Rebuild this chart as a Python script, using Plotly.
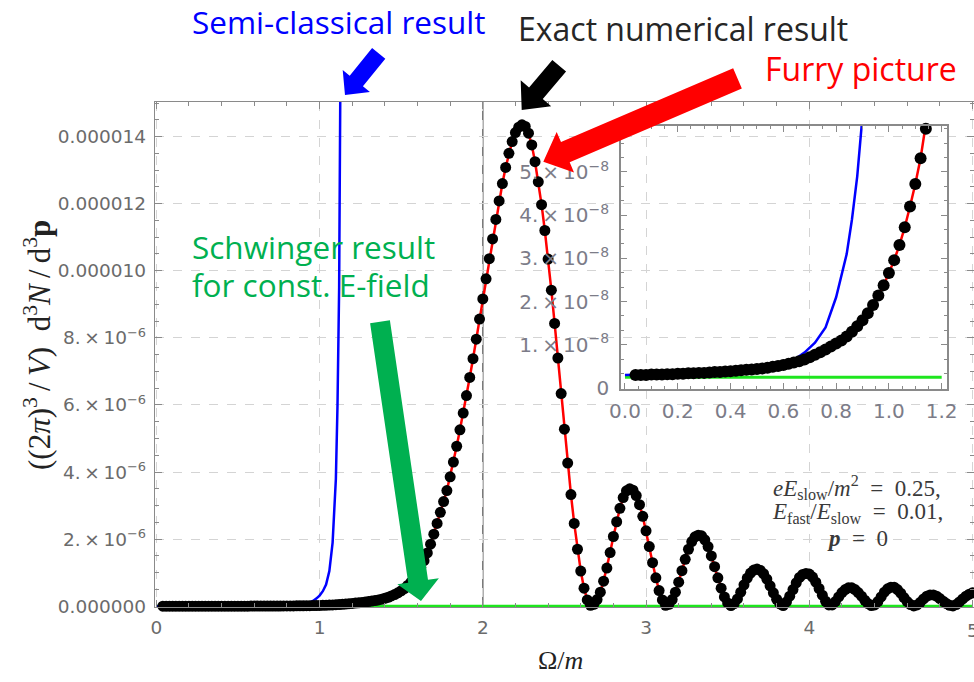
import numpy as np
import plotly.graph_objects as go

# ------------------------------------------------------------------ data
omega_start = 0.04          # first sample of the exact result (Omega/m)
omega_step = 0.02           # sampling step of the exact result

# Exact numerical result (black dots) for Omega/m = 0.04 ... 1.20, in units of 1e-8
exact_low_1e8 = [
    0.30, 0.30, 0.30, 0.31, 0.31, 0.31, 0.32, 0.32, 0.33, 0.33,   # 0.04-0.22
    0.34, 0.34, 0.35, 0.35, 0.36, 0.37, 0.37, 0.38, 0.39, 0.40,   # 0.24-0.42
    0.41, 0.42, 0.43, 0.44, 0.45, 0.47, 0.49, 0.51, 0.53, 0.56,   # 0.44-0.62
    0.59, 0.62, 0.66, 0.71, 0.77, 0.83, 0.89, 0.96, 1.03, 1.10,   # 0.64-0.82
    1.19, 1.30, 1.43, 1.57, 1.73, 1.92, 2.14, 2.38, 2.66, 2.96,   # 0.84-1.02
    3.31, 3.72, 4.20, 4.72, 5.32, 6.00, 6.80, 7.70, 8.70,         # 1.04-1.20
]
# Exact numerical result for Omega/m = 1.22 ... 5.00, in units of 1e-6
exact_high_1e6 = [
    0.097, 0.106, 0.116, 0.127, 0.140, 0.155, 0.170, 0.190, 0.210, 0.240,  # 1.22-1.40
    0.270, 0.310, 0.350, 0.400, 0.460, 0.530, 0.620, 0.720, 0.840, 0.990,  # 1.42-1.60
    1.16, 1.36, 1.59, 1.85, 2.15, 2.47, 2.80, 3.12, 3.45, 3.86,            # 1.62-1.80
    4.30, 4.77, 5.26, 5.76, 6.28, 6.82, 7.38, 7.96, 8.56, 9.16,            # 1.82-2.00
    9.76, 10.36, 10.95, 11.53, 12.08, 12.60, 13.08, 13.50, 13.85, 14.12,   # 2.02-2.20
    14.28, 14.35, 14.30, 14.10, 13.75, 13.25, 12.65, 11.97, 11.20, 10.35,  # 2.22-2.40
    9.42, 8.43, 7.40, 6.34, 5.28, 4.27, 3.33, 2.47, 1.70, 1.05,            # 2.42-2.60
    0.54, 0.19, 0.03, 0.06, 0.20, 0.42, 0.75, 1.14, 1.60, 2.08,            # 2.62-2.80
    2.52, 2.92, 3.24, 3.44, 3.50, 3.46, 3.30, 3.03, 2.68, 2.25,            # 2.82-3.00
    1.78, 1.30, 0.85, 0.47, 0.19, 0.03, 0.06, 0.20, 0.42, 0.72,            # 3.02-3.20
    1.06, 1.40, 1.70, 1.93, 2.07, 2.12, 2.10, 1.98, 1.78, 1.50,            # 3.22-3.40
    1.18, 0.85, 0.54, 0.28, 0.10, 0.02, 0.08, 0.22, 0.42, 0.64,            # 3.42-3.60
    0.84, 0.99, 1.08, 1.11, 1.07, 0.97, 0.81, 0.61, 0.40, 0.21,            # 3.62-3.80
    0.07, 0.02, 0.13, 0.30, 0.50, 0.70, 0.86, 0.95, 0.98, 0.96,            # 3.82-4.00
    0.87, 0.72, 0.53, 0.33, 0.15, 0.04, 0.04, 0.14, 0.28, 0.41,            # 4.02-4.20
    0.50, 0.55, 0.55, 0.50, 0.41, 0.30, 0.18, 0.08, 0.02, 0.04,            # 4.22-4.40
    0.14, 0.28, 0.42, 0.52, 0.57, 0.57, 0.50, 0.39, 0.26, 0.14,            # 4.42-4.60
    0.05, 0.01, 0.04, 0.12, 0.22, 0.30, 0.34, 0.34, 0.30, 0.23,            # 4.62-4.80
    0.15, 0.08, 0.03, 0.01, 0.05, 0.13, 0.22, 0.30, 0.36, 0.40,            # 4.82-5.00
]

# Semi-classical result (blue), units of 1e-8
semiclassical_x = [0.00, 0.10, 0.20, 0.30, 0.40, 0.50, 0.56, 0.60, 0.64, 0.68,
                   0.72, 0.76, 0.80, 0.84, 0.86, 0.88, 0.90, 0.92, 0.94, 0.96,
                   0.98, 1.00, 1.02, 1.04, 1.06, 1.08, 1.10, 1.11, 1.12, 1.13, 1.14]
semiclassical_1e8 = [0.30, 0.31, 0.33, 0.35, 0.39, 0.45, 0.50, 0.55, 0.65, 0.82,
                     1.05, 1.40, 2.10, 3.10, 3.90, 4.90, 6.30, 8.5, 11.5, 16,
                     23, 32, 45, 65, 105, 190, 380, 600, 950, 1600, 2600]

# Schwinger result for constant field (green), units of 1e-8
schwinger_x = [0.0, 1.2, 5.0]
schwinger_1e8 = [0.25, 0.25, 0.25]

reference_line_x = 2.0

main_x_ticks = [0, 1, 2, 3, 4, 5]
main_y_ticks_1e6 = [0, 2, 4, 6, 8, 10, 12, 14]
main_y_ticktext = ["0.000000",
                   "2.\u2009×\u200910<sup>−6</sup>", "4.\u2009×\u200910<sup>−6</sup>",
                   "6.\u2009×\u200910<sup>−6</sup>", "8.\u2009×\u200910<sup>−6</sup>",
                   "0.000010", "0.000012", "0.000014"]
inset_x_ticks = [0.0, 0.2, 0.4, 0.6, 0.8, 1.0, 1.2]
inset_x_ticktext = ["0.0", "0.2", "0.4", "0.6", "0.8", "1.0", "1.2"]
inset_y_ticks_1e8 = [0, 1, 2, 3, 4, 5]
inset_y_ticktext = ["0"] + ["%d.\u2009×\u200910<sup>−8</sup>" % k for k in range(1, 6)]

# ------------------------------------------------------------------ derived arrays
exact_y = np.concatenate([np.array(exact_low_1e8) * 1e-8, np.array(exact_high_1e6) * 1e-6])
omega = np.round(omega_start + omega_step * np.arange(len(exact_y)), 2)
furry_y = exact_y          # Furry-picture curve coincides with the exact result
semi_y = np.array(semiclassical_1e8) * 1e-8
schw_y = np.array(schwinger_1e8) * 1e-8

in_dots = omega <= 1.145
in_line = omega <= 1.23

# ------------------------------------------------------------------ layout geometry (pixels)
W, H = 974, 682
L, R, T, B = 155, 0, 102, 75
PW, PH = W - L - R, H - T - B
XR = [-0.008, 5.009]


def P(X, Y):
    return (X - L) / PW, (H - B - Y) / PH


fig = go.Figure()

# main plot traces
fig.add_trace(go.Scatter(x=schwinger_x, y=schw_y, mode="lines",
                         line=dict(color="#1ee61e", width=3), xaxis="x", yaxis="y"))
fig.add_trace(go.Scatter(x=semiclassical_x, y=semi_y, mode="lines",
                         line=dict(color="#0000ff", width=2.5), xaxis="x", yaxis="y"))
fig.add_trace(go.Scatter(x=omega, y=furry_y, mode="lines",
                         line=dict(color="#ff0000", width=2.5), xaxis="x", yaxis="y"))
fig.add_trace(go.Scatter(x=omega, y=exact_y, mode="markers",
                         marker=dict(color="black", size=11), cliponaxis=False,
                         xaxis="x", yaxis="y"))

# inset traces
fig.add_trace(go.Scatter(x=schwinger_x[:2], y=schw_y[:2], mode="lines",
                         line=dict(color="#1ee61e", width=3), xaxis="x2", yaxis="y2"))
fig.add_trace(go.Scatter(x=semiclassical_x, y=semi_y, mode="lines",
                         line=dict(color="#0000ff", width=2.5), xaxis="x2", yaxis="y2"))
fig.add_trace(go.Scatter(x=omega[in_line], y=furry_y[in_line], mode="lines",
                         line=dict(color="#ff0000", width=2.5), xaxis="x2", yaxis="y2"))
fig.add_trace(go.Scatter(x=omega[in_dots], y=exact_y[in_dots], mode="markers",
                         marker=dict(color="black", size=12), cliponaxis=False,
                         xaxis="x2", yaxis="y2"))

fig.add_vline(x=reference_line_x, line=dict(color="#7a7a7a", width=1.6), layer="below")

frame = "#8a8a8a"
tickfont = dict(family="DejaVu Sans", size=18.5, color="#6b6b6b")
inset_tickfont = dict(family="DejaVu Sans", size=20, color="#7c7c88")

fig.update_layout(
    width=W, height=H,
    margin=dict(l=L, r=R, t=T, b=B, autoexpand=False),
    paper_bgcolor="white", plot_bgcolor="rgba(0,0,0,0)",
    showlegend=False,
    xaxis=dict(range=XR, tickvals=main_x_ticks,
               ticktext=[str(v) for v in main_x_ticks], automargin=False,
               ticks="inside", ticklen=7, tickcolor=frame, tickwidth=1.2,
               minor=dict(dtick=0.2, tick0=0, ticks="inside", ticklen=4,
                          tickcolor=frame, showgrid=False),
               showline=True, linecolor=frame, linewidth=1.4, mirror="ticks",
               showgrid=True, gridcolor="#d4d4d4", griddash="dash", gridwidth=1,
               zeroline=False, tickfont=tickfont, ticklabelstandoff=4),
    yaxis=dict(range=[-0.021e-6, 15.03e-6], automargin=False,
               tickvals=[v * 1e-6 for v in main_y_ticks_1e6], ticktext=main_y_ticktext,
               ticks="inside", ticklen=7, tickcolor=frame, tickwidth=1.2,
               minor=dict(dtick=0.5e-6, tick0=0, ticks="inside", ticklen=4,
                          tickcolor=frame, showgrid=False),
               showline=True, linecolor=frame, linewidth=1.4, mirror="ticks",
               showgrid=True, gridcolor="#d4d4d4", griddash="dash", gridwidth=1,
               zeroline=False, tickfont=tickfont, ticklabelstandoff=4),
    xaxis2=dict(domain=[0.569, 0.967], anchor="y2", range=[-0.015, 1.22],
                tickvals=inset_x_ticks, ticktext=inset_x_ticktext, automargin=False,
                ticks="inside", ticklen=6, tickcolor=frame,
                minor=dict(dtick=0.05, tick0=0, ticks="inside", ticklen=3.5,
                           tickcolor=frame, showgrid=False),
                showline=True, linecolor=frame, linewidth=1.6, mirror="ticks",
                showgrid=False, zeroline=False, tickfont=inset_tickfont,
                ticklabelstandoff=3),
    yaxis2=dict(domain=[0.4317, 0.9525], anchor="x2", range=[-0.023e-8, 6.065e-8],
                tickvals=[v * 1e-8 for v in inset_y_ticks_1e8], ticktext=inset_y_ticktext,
                automargin=False,
                ticks="inside", ticklen=6, tickcolor=frame,
                minor=dict(dtick=1e-8 / 3, tick0=0, ticks="inside", ticklen=3.5,
                           tickcolor=frame, showgrid=False),
                showline=True, linecolor=frame, linewidth=1.6, mirror="ticks",
                showgrid=False, zeroline=False, tickfont=inset_tickfont,
                ticklabelstandoff=6),
)


# ------------------------------------------------------------------ arrows
def arrow_path(tail, tip, w, hw, hl):
    t = np.array(tail, float)
    h = np.array(tip, float)
    d = h - t
    d = d / np.hypot(*d)
    n = np.array([-d[1], d[0]])
    base = h - d * hl
    pts = [t + n * w / 2, base + n * w / 2, base + n * hw / 2, h,
           base - n * hw / 2, base - n * w / 2, t - n * w / 2]
    out = []
    for i, p in enumerate(pts):
        px, py = P(*p)
        out.append(("M" if i == 0 else "L") + "%.5f,%.5f" % (px, py))
    return " ".join(out) + " Z"


arrows = [
    ((378.7, 53.3), (345.0, 95.0), 17, 35, 18, "#0000ff"),
    ((559.2, 65.8), (521.7, 110.0), 18, 40, 22, "#000000"),
    ((737.5, 78.3), (543.3, 161.7), 22, 44, 24, "#ff0000"),
    ((380.0, 321.7), (421.0, 601.0), 20, 42, 20, "#00b050"),
]
for tail, tip, w, hw, hl, col in arrows:
    fig.add_shape(type="path", path=arrow_path(tail, tip, w, hw, hl),
                  xref="paper", yref="paper", fillcolor=col, line=dict(width=0),
                  layer="above")

# ------------------------------------------------------------------ texts
def text(X, Y, s, size, color, family="Open Sans", xanchor="left", angle=0):
    px, py = P(X, Y)
    fig.add_annotation(x=px, y=py, xref="paper", yref="paper", text=s,
                       showarrow=False, xanchor=xanchor, yanchor="middle",
                       textangle=angle, font=dict(family=family, size=size, color=color))


text(190, 21, "Semi-classical result", 31.5, "#0000ff")
text(516, 28, "Exact numerical result", 32, "#262626")
text(763, 69, "Furry picture", 32, "#ff0000")
text(190, 246, "Schwinger result", 31.5, "#00b050")
text(190, 284, "for const. E-field", 31.5, "#00b050")

serif = "Liberation Serif"
eq = "\u2002=\u2002"
text(857, 487, "<i>eE</i><sub>slow</sub>/<i>m</i><sup>2</sup>" + eq + "0.25,", 23, "#3a3a3a",
     family=serif, xanchor="center")
text(857, 513, "<i>E</i><sub>fast</sub>/<i>E</i><sub>slow</sub>" + eq + "0.01,", 23, "#3a3a3a",
     family=serif, xanchor="center")
text(857, 538, "<b><i>p</i></b>" + eq + "0", 23, "#3a3a3a", family=serif, xanchor="center")

text(37, 345,
     "((2<i>π</i>)<sup>3</sup>\u2009/\u2009<i>V</i>)\u2002d<sup>3</sup><i>N</i>"
     "\u2009/\u2009d<sup>3</sup><b>p</b>",
     31, "#222222", family=serif, xanchor="center", angle=-90)
text(560, 660, "Ω/<i>m</i>", 26, "#222222", family=serif, xanchor="center")

# last x tick label sits on the right edge of the picture (partly cut, as in the reference)
fig.add_annotation(x=main_x_ticks[-1], y=0, xref="x", yref="paper", yshift=-23,
                   text=str(main_x_ticks[-1]), showarrow=False, xanchor="center",
                   yanchor="middle", font=tickfont)

fig.write_html("out.html",
               config=dict(displayModeBar=False),
               post_script="document.body.style.margin='0px';"
                           "document.body.style.overflow='hidden';")
